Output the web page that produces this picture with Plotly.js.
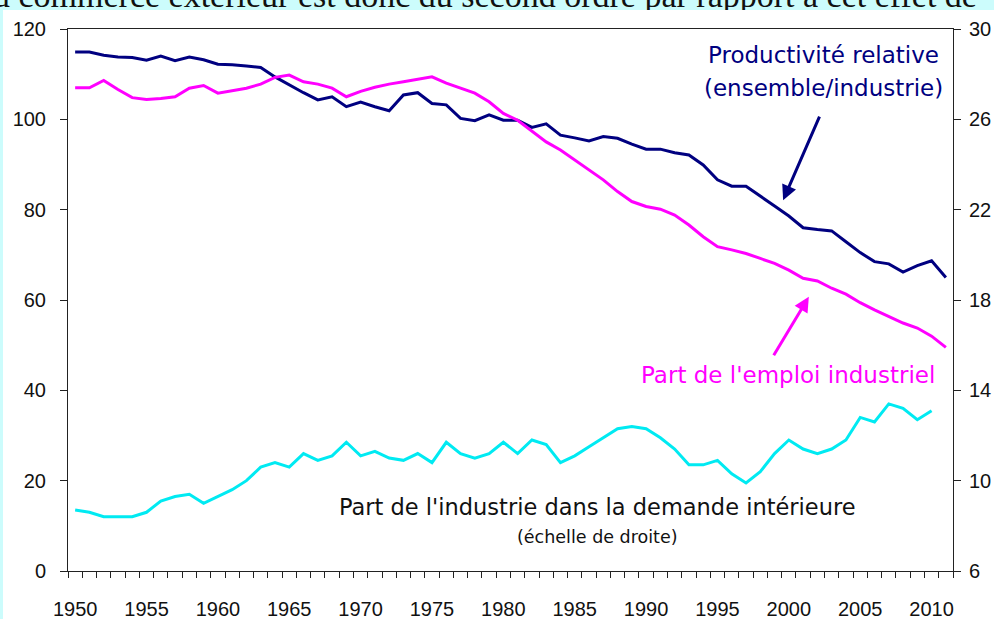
<!DOCTYPE html>
<html>
<head>
<meta charset="utf-8">
<script src="https://cdn.plot.ly/plotly-3.0.1.min.js"></script>
<style>
  html, body { margin: 0; padding: 0; width: 994px; height: 619px; overflow: hidden; background: #ccfcfc; }
  #toptext { position: absolute; left: 0; top: 0; width: 994px; height: 10px; overflow: hidden; }
  #toptext span { position: absolute; left: -24px; top: -21px; font-family: "Liberation Serif", "DejaVu Serif", serif; font-size: 34px; line-height: 34px; white-space: nowrap; color: #111; }
  #chart { position: absolute; left: 3px; top: 10px; width: 991px; height: 609px; background: #fff; }
</style>
</head>
<body>
<div id="toptext"><span>du commerce extérieur est donc du second ordre par rapport à cet effet de</span></div>
<div id="chart"></div>
<script>
const years = [1950,1951,1952,1953,1954,1955,1956,1957,1958,1959,
  1960,1961,1962,1963,1964,1965,1966,1967,1968,1969,
  1970,1971,1972,1973,1974,1975,1976,1977,1978,1979,
  1980,1981,1982,1983,1984,1985,1986,1987,1988,1989,
  1990,1991,1992,1993,1994,1995,1996,1997,1998,1999,
  2000,2001,2002,2003,2004,2005,2006,2007,2008,2009,
  2010,2011];

// Productivité relative (ensemble/industrie), left axis
const productivite = [114.9,114.9,114.2,113.8,113.7,113.1,114.0,113.0,113.8,113.2,
  112.2,112.1,111.8,111.5,109.4,107.6,105.9,104.3,105.0,102.8,
  103.8,102.8,101.9,105.4,105.9,103.5,103.2,100.2,99.7,101.0,
  99.8,99.8,98.2,99.0,96.5,95.9,95.2,96.2,95.8,94.5,
  93.4,93.4,92.6,92.1,89.9,86.6,85.2,85.2,82.9,80.8,
  78.6,76.0,75.6,75.3,72.9,70.5,68.5,68.0,66.2,67.6,
  68.7,65.0];

// Part de l'emploi industriel, left axis
const emploi = [107.0,107.0,108.6,106.6,104.8,104.4,104.6,105.0,106.9,107.5,
  105.8,106.3,106.9,107.8,109.3,109.8,108.3,107.8,106.9,105.0,
  106.2,107.1,107.8,108.3,108.9,109.4,108.0,106.9,105.8,103.9,
  101.3,99.8,97.3,95.0,93.2,91.0,88.8,86.6,84.0,81.8,
  80.7,80.1,78.8,76.6,74.0,71.8,71.1,70.3,69.2,68.1,
  66.6,64.8,64.2,62.6,61.3,59.4,57.8,56.3,54.9,53.8,
  52.0,49.5];

// Part de l'industrie dans la demande intérieure (échelle de droite), 1950-2010
const demande = [8.7,8.6,8.4,8.4,8.4,8.6,9.1,9.3,9.4,9.0,
  9.3,9.6,10.0,10.6,10.8,10.6,11.2,10.9,11.1,11.7,
  11.1,11.3,11.0,10.9,11.2,10.8,11.7,11.2,11.0,11.2,
  11.7,11.2,11.8,11.6,10.8,11.1,11.5,11.9,12.3,12.4,
  12.3,11.9,11.4,10.7,10.7,10.9,10.3,9.9,10.4,11.2,
  11.8,11.4,11.2,11.4,11.8,12.8,12.6,13.4,13.2,12.7,
  13.1];

const xLabels = [1950,1955,1960,1965,1970,1975,1980,1985,1990,1995,2000,2005,2010];
const leftTicks = [0,20,40,60,80,100,120];
const rightTicks = [6,10,14,18,22,26,30];

const NAVY = '#000080', MAGENTA = '#ff00ff', CYAN = '#00eaf2';
const tickFont = {family: '"Liberation Sans", Arial, sans-serif', size: 20, color: '#111'};
const annFont = 'DejaVu Sans, Verdana, sans-serif';

const traces = [
  {x: years, y: productivite, type: 'scatter', mode: 'lines', line: {color: NAVY, width: 3}, yaxis: 'y', hoverinfo: 'skip'},
  {x: years, y: emploi, type: 'scatter', mode: 'lines', line: {color: MAGENTA, width: 3}, yaxis: 'y', hoverinfo: 'skip'},
  {x: years.slice(0, demande.length), y: demande, type: 'scatter', mode: 'lines', line: {color: CYAN, width: 3}, yaxis: 'y2', hoverinfo: 'skip'}
];

const layout = {
  width: 991, height: 609,
  margin: {l: 65, r: 41, t: 19, b: 48},
  paper_bgcolor: '#ffffff', plot_bgcolor: '#ffffff',
  showlegend: false,
  xaxis: {
    range: [1949.5, 2011.5], tickvals: xLabels, ticktext: xLabels.map(String),
    ticks: '', showgrid: false, zeroline: false,
    showline: true, linecolor: '#222', linewidth: 1, mirror: true,
    tickfont: tickFont, ticklabelstandoff: 20,
    minor: {tick0: 1949.5, dtick: 1, ticks: 'outside', ticklen: 6, tickcolor: '#222', showgrid: false}
  },
  yaxis: {
    range: [0, 120], tickvals: leftTicks, ticks: 'outside', ticklen: 7, tickcolor: '#222',
    showgrid: false, zeroline: false, showline: true, linecolor: '#222', linewidth: 1,
    tickfont: tickFont, ticklabelstandoff: 10
  },
  yaxis2: {
    range: [6, 30], tickvals: rightTicks, overlaying: 'y', side: 'right',
    ticks: 'outside', ticklen: 7, tickcolor: '#222',
    showgrid: false, zeroline: false, showline: true, linecolor: '#222', linewidth: 1,
    tickfont: tickFont, ticklabelstandoff: 4
  },
  yaxis3: {
    range: [6, 30], tickvals: rightTicks, overlaying: 'y', side: 'right',
    ticks: 'inside', ticklen: 7, tickcolor: '#222', showticklabels: false,
    showgrid: false, zeroline: false, showline: false
  },
  annotations: [
    {xref: 'paper', yref: 'paper', x: 0.854, y: 0.952, text: 'Productivité relative', showarrow: false,
     font: {family: annFont, size: 23, color: NAVY}, xanchor: 'center', yanchor: 'middle'},
    {xref: 'paper', yref: 'paper', x: 0.854, y: 0.891, text: '(ensemble/industrie)', showarrow: false,
     font: {family: annFont, size: 23, color: NAVY}, xanchor: 'center', yanchor: 'middle'},
    {xref: 'x', yref: 'y', x: 1999.6, y: 82.1, ax: 37, ay: -85, text: '', showarrow: true,
     arrowhead: 2, arrowsize: 1, arrowwidth: 3, arrowcolor: NAVY},
    {xref: 'paper', yref: 'paper', x: 0.814, y: 0.362, text: "Part de l'emploi industriel", showarrow: false,
     font: {family: annFont, size: 23, color: MAGENTA}, xanchor: 'center', yanchor: 'middle'},
    {xref: 'x', yref: 'y', x: 2001.4, y: 60.7, ax: -36, ay: 60, text: '', showarrow: true,
     arrowhead: 2, arrowsize: 1, arrowwidth: 3, arrowcolor: MAGENTA},
    {xref: 'paper', yref: 'paper', x: 0.598, y: 0.118, text: "Part de l'industrie dans la demande intérieure", showarrow: false,
     font: {family: annFont, size: 22.5, color: '#111'}, xanchor: 'center', yanchor: 'middle'},
    {xref: 'paper', yref: 'paper', x: 0.598, y: 0.063, text: '(échelle de droite)', showarrow: false,
     font: {family: annFont, size: 17.5, color: '#111'}, xanchor: 'center', yanchor: 'middle'}
  ]
};

Plotly.newPlot('chart', traces, layout, {displayModeBar: false, staticPlot: true});
</script>
</body>
</html>
